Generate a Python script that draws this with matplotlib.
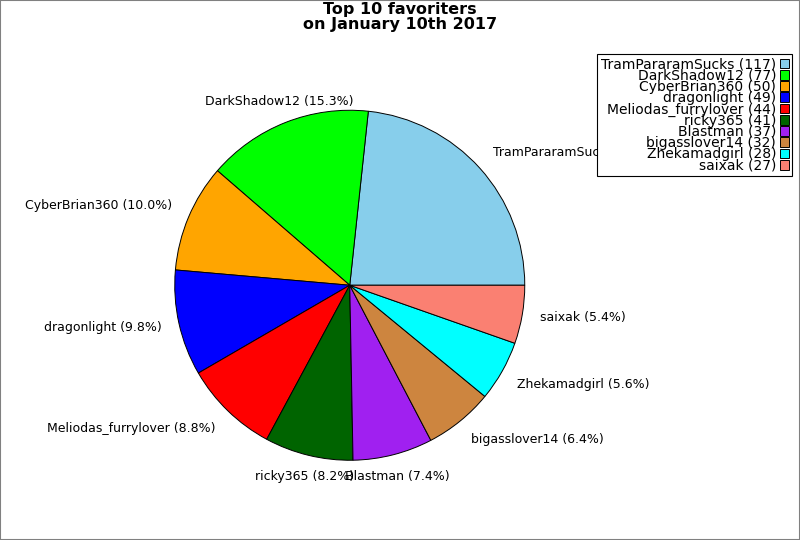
import matplotlib
matplotlib.use("Agg")
import matplotlib.pyplot as plt
from matplotlib.patches import Rectangle

# =================== Data ===================
names = ["TramPararamSucks", "DarkShadow12", "CyberBrian360", "dragonlight",
         "Meliodas_furrylover", "ricky365", "Blastman", "bigasslover14",
         "Zhekamadgirl", "saixak"]
counts = [117, 77, 50, 49, 44, 41, 37, 32, 28, 27]
colors = ["skyblue", "#00ff00", "orange", "blue", "red", "#006400",
          "#a020f0", "peru", "cyan", "salmon"]

total = sum(counts)
pie_labels = [f"{n} ({100.0 * c / total:.1f}%)" for n, c in zip(names, counts)]
legend_labels = [f"{n} ({c})" for n, c in zip(names, counts)]

# =================== Plot ===================
fig = plt.figure(figsize=(8, 5.4), dpi=100)
ax = fig.add_axes([131 / 800, 36 / 540, 437.5 / 800, 437.5 / 540])

wedges, texts = ax.pie(counts, labels=pie_labels, colors=colors, startangle=0,
                       counterclock=True, labeldistance=1.1,
                       wedgeprops={"edgecolor": "black", "linewidth": 0.7},
                       textprops={"fontsize": 9})
ax.set_aspect("equal")

# label placement: centred near top/bottom, nudged outward vertically
for t in texts:
    x, y = t.get_position()
    if x > 0.55:
        t.set_ha("left")
    elif x < -0.55:
        t.set_ha("right")
    else:
        t.set_ha("center")
    if abs(y) > 0.33:
        t.set_position((x, y + (0.026 if y > 0 else -0.026)))

fig.suptitle("Top 10 favoriters\non January 10th 2017", fontsize=11.5,
             fontweight="bold", y=0.997, va="top", linespacing=1.0)

leg = fig.legend(wedges, legend_labels, loc="upper right",
                 bbox_to_anchor=(792 / 800, 1 - 54 / 540),
                 markerfirst=False, fancybox=False, framealpha=1,
                 edgecolor="black", fontsize=10, labelspacing=-0.2,
                 handlelength=0.6, handleheight=0.7, handletextpad=0.3,
                 borderpad=0.25, borderaxespad=0)
for t in leg.get_texts():
    t.set_ha("right")
leg.get_frame().set_linewidth(0.8)

# grey border around the figure
fig.patches.append(Rectangle((0, 0), 1, 1, transform=fig.transFigure,
                             fill=False, edgecolor="gray", linewidth=1.5))

fig.savefig("out.png", dpi=100)
